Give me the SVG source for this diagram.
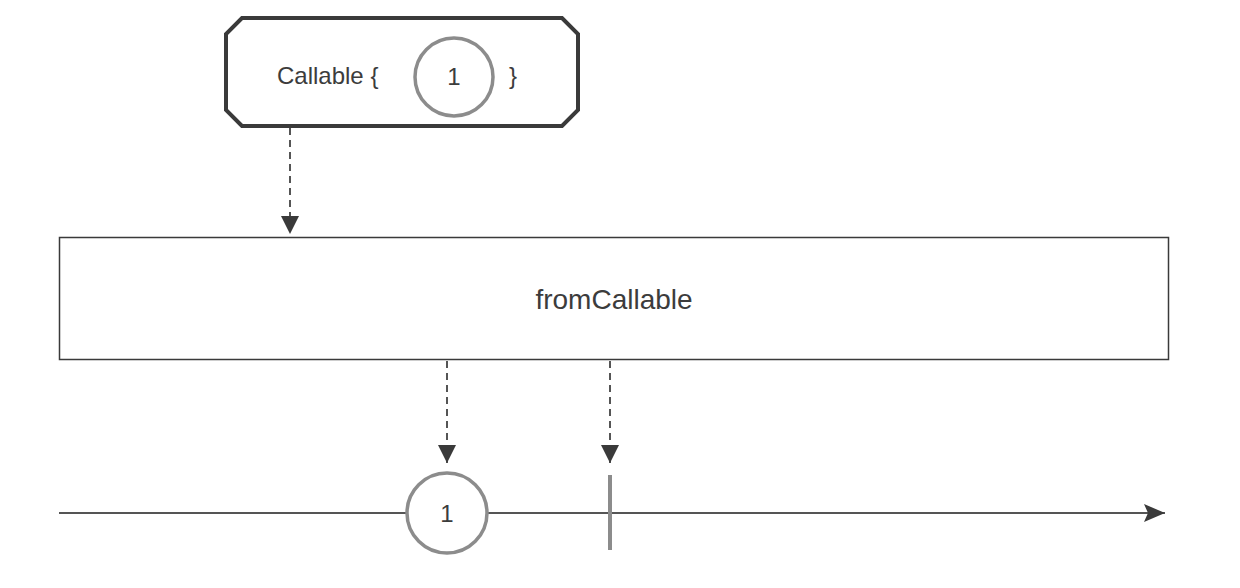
<svg xmlns="http://www.w3.org/2000/svg" width="1240" height="588" viewBox="0 0 1240 588">
<defs>
<marker id="ah" viewBox="0 0 18 18" refX="18" refY="9" markerWidth="18" markerHeight="18" markerUnits="userSpaceOnUse" orient="auto">
<path d="M0,0 L18,9 L0,18 Z" fill="#3a3a3a"/>
</marker>
<marker id="ahT" viewBox="0 0 21 18" refX="21" refY="9" markerWidth="21" markerHeight="18" markerUnits="userSpaceOnUse" orient="auto">
<path d="M0,0 L21,9 L0,18 L4,9 Z" fill="#3a3a3a"/>
</marker>
</defs>
<style>
text{font-family:"Liberation Sans",Arial,sans-serif;fill:#3c3c3c;}
.lbl{font-size:24px;}
.num{font-size:24px;text-anchor:middle;}
.dash{stroke:#555;stroke-width:2;stroke-dasharray:7,5;fill:none;}
.ev{fill:#fff;stroke:#8c8c8c;stroke-width:3.5;}
</style>
<rect width="1240" height="588" fill="#fff"/>
<g id="callable">
<path d="M242,18 L562,18 L578,34 L578,110 L562,126 L242,126 L226,110 L226,34 Z" fill="#fff" stroke="#3a3a3a" stroke-width="4"/>
<text class="lbl" x="277" y="84">Callable {</text>
<circle class="ev" cx="454" cy="77" r="39"/>
<text class="num" x="454" y="85">1</text>
<text class="lbl" x="509" y="84">}</text>
</g>
<g id="fromCallable">
<rect x="59.5" y="237.5" width="1109" height="122" fill="#fff" stroke="#3a3a3a" stroke-width="1.5"/>
<text x="614" y="309" font-size="28" text-anchor="middle">fromCallable</text>
</g>
<g id="connectors">
<line class="dash" x1="290" y1="128" x2="290" y2="234" marker-end="url(#ah)"/>
<line class="dash" x1="447" y1="361" x2="447" y2="463" marker-end="url(#ah)"/>
<line class="dash" x1="610" y1="361" x2="610" y2="463" marker-end="url(#ah)"/>
</g>
<g id="timeline">
<line x1="59" y1="513" x2="1165" y2="513" stroke="#555" stroke-width="2" marker-end="url(#ahT)"/>
</g>
<g id="event1">
<circle class="ev" cx="447" cy="513" r="40"/>
<text class="num" x="447" y="522">1</text>
</g>
<g id="complete">
<line x1="610" y1="475" x2="610" y2="550" stroke="#8c8c8c" stroke-width="4"/>
</g>
</svg>
